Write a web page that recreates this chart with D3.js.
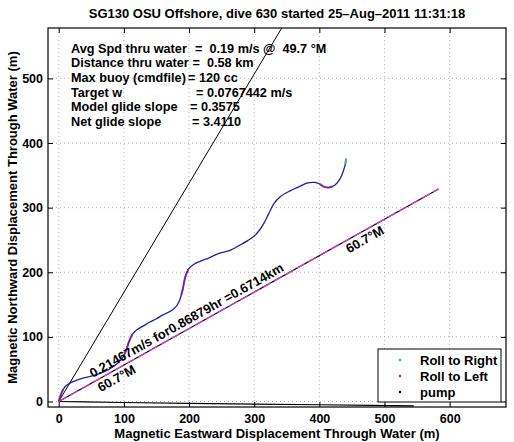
<!DOCTYPE html>
<html><head><meta charset="utf-8">
<script src="https://cdn.jsdelivr.net/npm/d3@7"></script>
<style>body{margin:0;background:#fff}svg text{font-family:"Liberation Sans",Arial,sans-serif;font-weight:bold}</style>
</head><body><svg id="c" width="514" height="442"></svg>
<script>
// ---- data ----
const xTicks = [0,100,200,300,400,500,600];
const yTicks = [0,100,200,300,400,500];
const trackX = [0,3,7,12,20,30,40,53,70,85,97,103,108,113,120,130,140,150,160,172,181,186,190,194,199,207,217,230,245,263,278,290,300,308,315,322,330,340,355,370,381,393,400,406,414,424,432,437,440,441];
const trackY = [0,10,19,25,30,34,37,40,46,55,66,78,93,104,111,117,123,128,134,140,148,158,172,192,205,212,217,222,229,234,242,249,256,265,276,290,306,317,326,333,338,339,337,333,331,335,345,357,368,376];
const rollLeftX = [[0,3,7],[100,103,108,113],[188,190,194,199],[400,406,414,420]];
const rollLeftY = [[0,10,19],[72,78,93,104],[165,172,192,205],[337,333,331,333]];
const rollRightX = [440,440.5,441];
const rollRightY = [368,372,376];
const netLineX = [0,360];
const netLineY = [0,608];
const headingX = [0,583];
const headingY = [0,329];
const pumpX = [0,40,100,200,300,400,480,545];
const pumpY = [0,-0.5,-1.5,-3,-4,-5,-6,-6.7];
const statsLabels = ["Avg Spd thru water","Distance thru water","Max buoy (cmdfile)","Target w","Model glide slope","Net glide slope"];
const statsValues = ["=  0.19 m/s @  49.7 °M","=  0.58 km","= 120 cc","= 0.0767442 m/s","= 0.3575","= 3.4110"];
const speedLabel = "0.21467m/s for0.86879hr =0.6714km";
const headingLabel = "60.7°M";
const legendLabels = ["Roll to Right","Roll to Left","pump"];
const legendColors = ["#22cc44","#cc2222","#000"];
const title = "SG130 OSU Offshore, dive 630 started 25\u2013Aug\u20132011 11:31:18";
const xLabel = "Magnetic Eastward Displacement Through Water (m)";
const yLabel = "Magnetic Northward Displacement Through Water (m)";

// ---- layout ----
const L=48,R=506,T=28,B=407;
const FS=13;
const svg=d3.select("#c");
svg.append("rect").attr("width",514).attr("height",442).attr("fill","#fff");
const x=d3.scaleLinear([-16.5,686.5],[L,R]);
const y=d3.scaleLinear([-8.5,578],[B,T]);

// grid
const g=svg.append("g");
g.selectAll(".gx").data(xTicks).join("line").attr("x1",d=>x(d)).attr("x2",d=>x(d)).attr("y1",T).attr("y2",B)
 .attr("stroke","#9a9a9a").attr("stroke-width",0.8).attr("stroke-dasharray","1,3");
g.selectAll(".gy").data(yTicks).join("line").attr("y1",d=>y(d)).attr("y2",d=>y(d)).attr("x1",L).attr("x2",R)
 .attr("stroke","#9a9a9a").attr("stroke-width",0.8).attr("stroke-dasharray","1,3");

svg.append("clipPath").attr("id","clip").append("rect").attr("x",L).attr("y",T).attr("width",R-L).attr("height",B-T);
const p=svg.append("g").attr("clip-path","url(#clip)");
const line=d3.line().x(d=>x(d[0])).y(d=>y(d[1]));
const zip=(a,b)=>a.map((v,i)=>[v,b[i]]);

// pump
p.append("path").attr("d",line(zip(pumpX,pumpY))).attr("fill","none").attr("stroke","#000").attr("stroke-width",1.2);
// net glide line
p.append("path").attr("d",line(zip(netLineX,netLineY))).attr("fill","none").attr("stroke","#000").attr("stroke-width",1);
// heading line black + magenta dashed
p.append("path").attr("d",line(zip(headingX,headingY))).attr("fill","none").attr("stroke","#000").attr("stroke-width",1.2);
p.append("path").attr("d",line(zip(headingX,headingY))).attr("fill","none").attr("stroke","#d43ad4").attr("stroke-width",1.4).attr("stroke-dasharray","9,4");
// track
const cl=d3.line().x(d=>x(d[0])).y(d=>y(d[1])).curve(d3.curveCatmullRom);
p.append("path").attr("d",cl(zip(trackX,trackY))).attr("fill","none").attr("stroke","#1e1ea6").attr("stroke-width",1.3);
rollLeftX.forEach((xs,i)=>{
  p.append("path").attr("d",cl(zip(xs,rollLeftY[i]))).attr("fill","none").attr("stroke","#8a1c9a").attr("stroke-width",2).attr("stroke-opacity",0.8);
});
p.append("path").attr("d",cl(zip(rollRightX,rollRightY))).attr("fill","none").attr("stroke","#2fbf6a").attr("stroke-width",2);

// text along heading line
const ang=Math.atan2(y(headingY[1])-y(0),x(headingX[1])-x(0))*180/Math.PI;
const lx=55, ly=lx*headingY[1]/headingX[1];
svg.append("text").attr("transform",`translate(${x(lx)},${y(ly)}) rotate(${ang})`).attr("dy",-4).attr("font-size",FS).text(speedLabel);
svg.append("text").attr("transform",`translate(${x(lx)},${y(ly)}) rotate(${ang})`).attr("dy",12.5).attr("font-size",FS).text(headingLabel);
const lx2=436, ly2=lx2*headingY[1]/headingX[1];
svg.append("text").attr("transform",`translate(${x(lx2)},${y(ly2)}) rotate(${ang})`).attr("dy",12.5).attr("font-size",FS).text(headingLabel);

// stats block
const valX=[195,192.5,188,196,190,192];
statsLabels.forEach((s,i)=>{
  const yy=52.5+i*14.7;
  svg.append("text").attr("x",71).attr("y",yy).attr("font-size",12.7).text(s);
  svg.append("text").attr("x",valX[i]).attr("y",yy).attr("font-size",12.7).attr("xml:space","preserve").style("white-space","pre").text(statsValues[i]);
});

// axes (ticks inside)
const fmt=d3.format("d");
const ax=svg.append("g").attr("transform",`translate(0,${B})`).call(d3.axisBottom(x).tickValues(xTicks).tickFormat(fmt).tickSizeInner(-5).tickSizeOuter(0).tickPadding(7));
const ay=svg.append("g").attr("transform",`translate(${L},0)`).call(d3.axisLeft(y).tickValues(yTicks).tickFormat(fmt).tickSizeInner(-5).tickSizeOuter(0).tickPadding(5));
const at=svg.append("g").attr("transform",`translate(0,${T})`).call(d3.axisTop(x).tickValues(xTicks).tickFormat("").tickSizeInner(-5).tickSizeOuter(0));
const ar=svg.append("g").attr("transform",`translate(${R},0)`).call(d3.axisRight(y).tickValues(yTicks).tickFormat("").tickSizeInner(-5).tickSizeOuter(0));
[ax,ay,at,ar].forEach(a=>{a.select(".domain").remove();a.selectAll("line").attr("stroke","#000");a.selectAll("text").attr("font-size",12.5).attr("fill","#000").style("font-family","'Liberation Sans',Arial,sans-serif").style("font-weight","bold");});
svg.append("rect").attr("x",L).attr("y",T).attr("width",R-L).attr("height",B-T).attr("fill","none").attr("stroke","#000").attr("stroke-width",1.2);

// legend
const lg=svg.append("g");
lg.append("rect").attr("x",378).attr("y",349).attr("width",123).attr("height",53).attr("fill","#fff").attr("stroke","#000").attr("stroke-width",1);
legendLabels.forEach((s,i)=>{
  const yy=360+i*16;
  lg.append("circle").attr("cx",400).attr("cy",yy).attr("r",1.2).attr("fill",legendColors[i]);
  lg.append("text").attr("x",420).attr("y",yy+4.5).attr("font-size",FS).text(s);
});

// titles
svg.append("text").attr("x",277).attr("y",18).attr("text-anchor","middle").attr("font-size",FS).text(title);
svg.append("text").attr("x",277).attr("y",438).attr("text-anchor","middle").attr("font-size",FS).text(xLabel);
svg.append("text").attr("transform",`translate(17,${(T+B)/2}) rotate(-90)`).attr("text-anchor","middle").attr("font-size",FS).text(yLabel);
</script></body></html>
